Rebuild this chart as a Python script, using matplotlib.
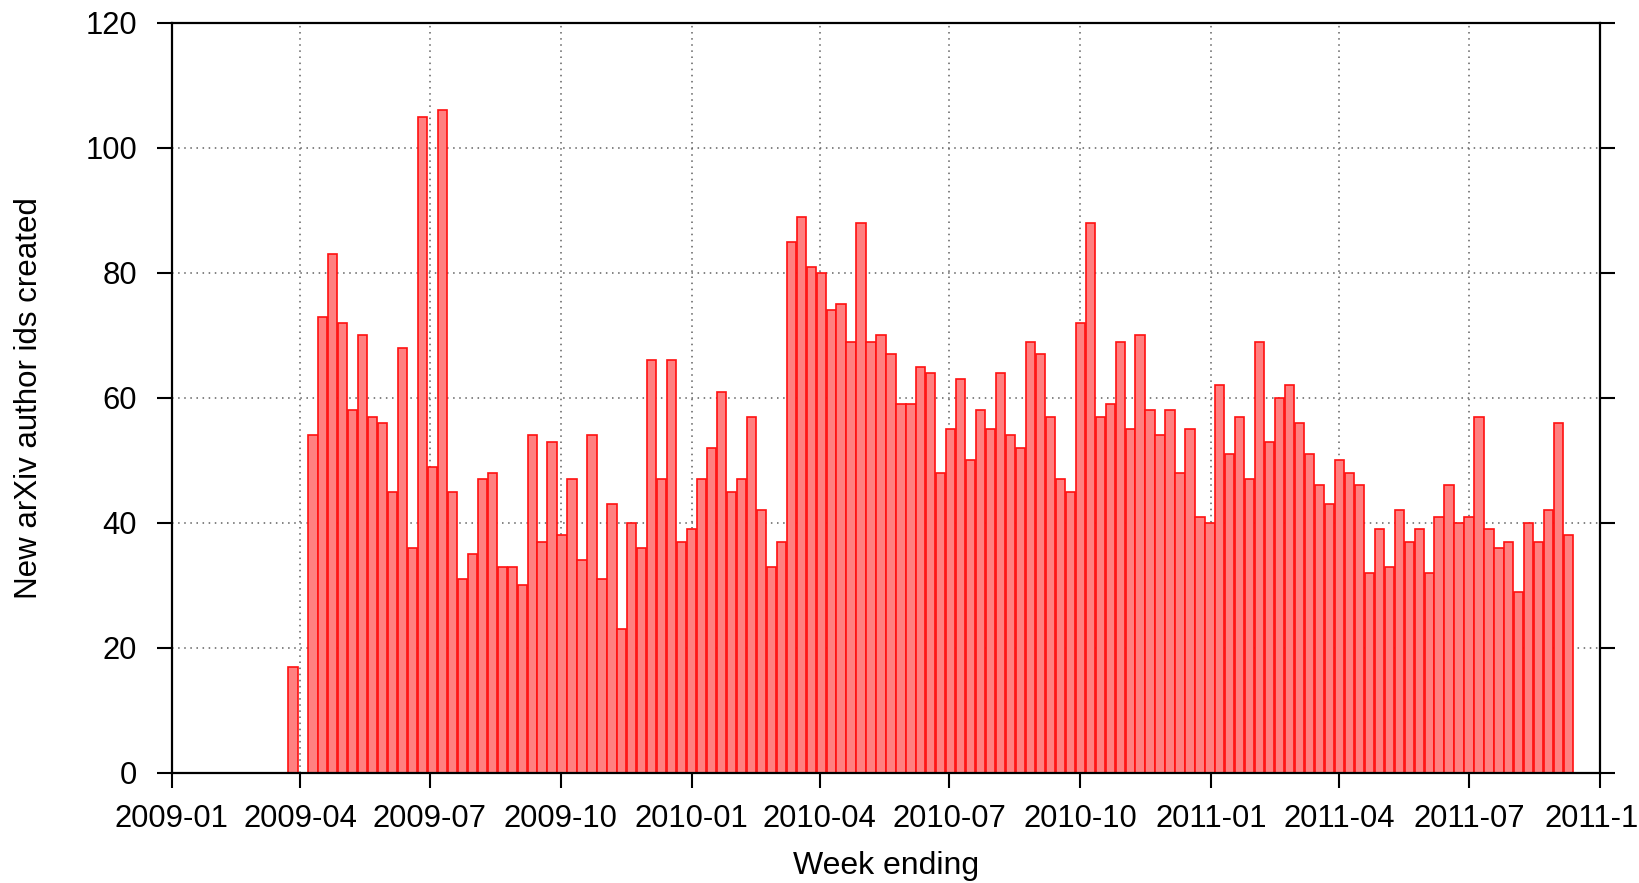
import matplotlib
matplotlib.use('Agg')
import matplotlib.pyplot as plt
import matplotlib.dates as mdates
from matplotlib import font_manager
import pandas as pd

# weekly counts of new arXiv author ids, first week ending 2009-03-27
first_week = '2009-03-27'
counts = [17, 0, 54, 73, 83, 72, 58, 70, 57, 56,
          45, 68, 36, 105, 49, 106, 45, 31, 35, 47,
          48, 33, 33, 30, 54, 37, 53, 38, 47, 34,
          54, 31, 43, 23, 40, 36, 66, 47, 66, 37,
          39, 47, 52, 61, 45, 47, 57, 42, 33, 37,
          85, 89, 81, 80, 74, 75, 69, 88, 69, 70,
          67, 59, 59, 65, 64, 48, 55, 63, 50, 58,
          55, 64, 54, 52, 69, 67, 57, 47, 45, 72,
          88, 57, 59, 69, 55, 70, 58, 54, 58, 48,
          55, 41, 40, 62, 51, 57, 47, 69, 53, 60,
          62, 56, 51, 46, 43, 50, 48, 46, 32, 39,
          33, 42, 37, 39, 32, 41, 46, 40, 41, 57,
          39, 36, 37, 29, 40, 37, 42, 56, 38]
weeks = pd.date_range(first_week, periods=len(counts), freq='7D')

plt.rcParams['font.family'] = ['Liberation Sans', 'DejaVu Sans']

# condensed face for the y label if one is installed
names = {f.name for f in font_manager.fontManager.ttflist}
ylab_font, ylab_size = 'Liberation Sans', 22.5
for cand, size in [('Liberation Sans Narrow', 27), ('DejaVu Sans Condensed', 24)]:
    if cand in names:
        ylab_font, ylab_size = cand, size
        break

fig = plt.figure(figsize=(16.39, 8.83), dpi=100)
ax = fig.add_subplot(111)
fig.subplots_adjust(left=0.1049, right=0.9762, top=0.974, bottom=0.1246)

ax.bar(weeks, counts, width=6.5, color='#ff8080', edgecolor='#ff1010',
       linewidth=1.2, zorder=2)

ax.set_xlim(pd.Timestamp('2009-01-01'), pd.Timestamp('2011-10-01'))
ax.set_ylim(0, 120)
ax.set_yticks(range(0, 121, 20))
ax.xaxis.set_major_locator(mdates.MonthLocator(bymonth=[1, 4, 7, 10]))
ax.xaxis.set_major_formatter(mdates.DateFormatter('%Y-%m'))

ax.grid(True, color='#606060', linestyle=(0, (1, 3)), linewidth=1.1, zorder=1)
ax.set_axisbelow(True)

for s in ax.spines.values():
    s.set_linewidth(1.6)
    s.set_zorder(3)

ax.tick_params(axis='both', direction='out', length=11, width=1.5,
               labelsize=22.3, colors='black')
ax.tick_params(axis='x', pad=11)
ax.tick_params(axis='y', pad=14, right=True)

ax.set_xlabel('Week ending', fontsize=23, va='top')
ax.xaxis.set_label_coords(0.5, -0.104)
ax.set_ylabel('New arXiv author ids created', fontsize=ylab_size,
              family=[ylab_font, 'DejaVu Sans'])
ax.yaxis.set_label_coords(-0.0896, 0.5)

fig.savefig('out.png', dpi=100)
